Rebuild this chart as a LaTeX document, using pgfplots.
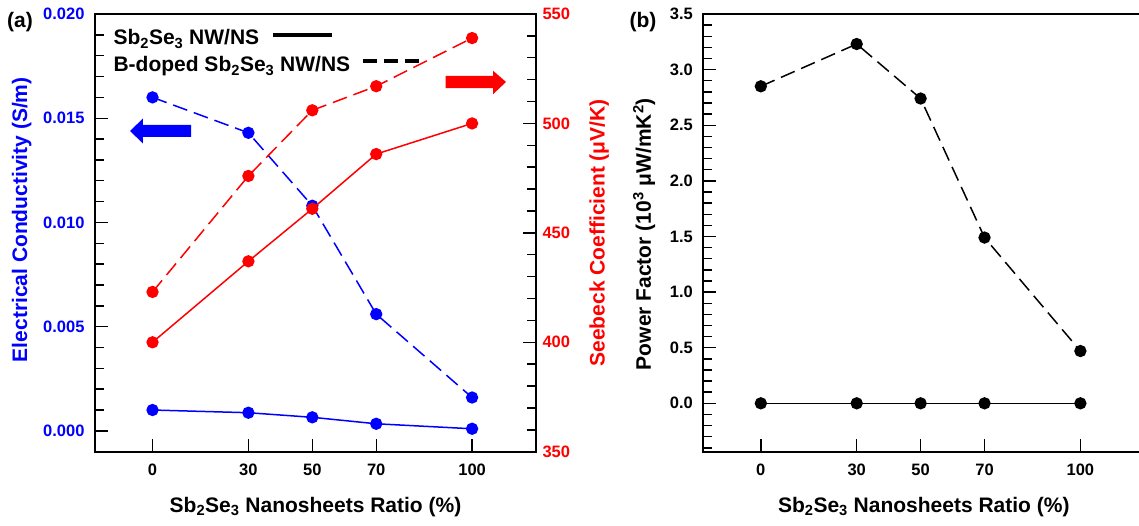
\documentclass[border=0pt]{standalone}
\usepackage{pgfplots}
\pgfplotsset{compat=1.18}
\usepackage{pgfplotstable}
\usepackage{fontspec}
\setmainfont{Liberation Sans}

\definecolor{cblue}{RGB}{0,0,255}
\definecolor{cred}{RGB}{255,0,0}

% electrical conductivity (S/m)
\pgfplotstableread{
x   plain    doped
0   0.00100  0.0160
30  0.00087  0.0143
50  0.00065  0.0108
70  0.00034  0.0056
100 0.00010  0.0016
}\condtable

% Seebeck coefficient (uV/K)
\pgfplotstableread{
x   plain  doped
0   400    423
30  437    476
50  461    506
70  486    517
100 500    539
}\seebecktable

% power factor (1e-3 uW/mK^2)
\pgfplotstableread{
x   plain  doped
0   0      2.85
30  0      3.23
50  0      2.74
70  0      1.49
100 0      0.47
}\pftable

\newcommand{\labelfont}{\fontsize{21}{21}\selectfont\bfseries}
\newcommand{\keyfont}{\fontsize{21}{21}\selectfont\bfseries}

\pgfplotsset{
  panel/.style={
    scale only axis, width=441pt, height=437.7pt,
    anchor=south west,
    xmin=-18, xmax=120, xtick={0,30,50,70,100},
    xtick pos=bottom, ytick pos=left,
    tick align=inside,
    axis line style={line width=1.8pt, black},
    major tick length=13pt, minor tick length=9pt,
    every tick/.style={line width=1.4pt, black},
    tick label style={font=\fontsize{16.5}{16.5}\selectfont\bfseries},
    /pgf/number format/assume math mode=true,
    xticklabel style={yshift=-9pt},
    xlabel={Sb\textsubscript{2}Se\textsubscript{3} Nanosheets Ratio (\%)},
    every axis x label/.style={at={(axis description cs:0.5,-0.126)}, anchor=center, font=\labelfont},
    clip=false,
  },
  series/.style={line width=1.5pt, mark=*, mark size=5.4pt, mark options={solid}},
  dashedline/.style={dash pattern=on 15pt off 7pt},
}

\begin{document}
\begin{tikzpicture}

% ---- (a) conductivity, left axis ----
\begin{axis}[panel, at={(95pt,73.3pt)},
  ymin=-0.001, ymax=0.020,
  ytick={0,0.005,0.010,0.015,0.020}, minor y tick num=4,
  yticklabel style={cblue, xshift=-7pt, /pgf/number format/.cd, fixed, fixed zerofill, precision=3},
  scaled y ticks=false,
  ylabel={Electrical Conductivity (S/m)},
  every axis y label/.style={at={(axis description cs:-0.166,0.53)}, rotate=90, anchor=center, cblue, font=\labelfont},
]
\addplot[series, cblue] table[x=x, y=plain] {\condtable};
\addplot[series, cblue, dashedline] table[x=x, y=doped] {\condtable};

% key
\node[anchor=base west, font=\keyfont] at (rel axis cs:0.034,0.9292) {Sb\textsubscript{2}Se\textsubscript{3} NW/NS};
\node[anchor=base west, font=\keyfont] at (rel axis cs:0.034,0.8675) {B-doped Sb\textsubscript{2}Se\textsubscript{3} NW/NS};
\draw[line width=4pt] (rel axis cs:0.4036,0.952) -- (rel axis cs:0.5367,0.952);
\draw[line width=4pt, dash pattern=on 14pt off 7pt] (rel axis cs:0.6077,0.8926) -- (rel axis cs:0.737,0.8926);

% left-pointing arrow for the conductivity scale
\fill[cblue] (rel axis cs:0.0794,0.7327) -- (rel axis cs:0.1088,0.7613) -- (rel axis cs:0.1088,0.7464)
  -- (rel axis cs:0.2177,0.7464) -- (rel axis cs:0.2177,0.7190) -- (rel axis cs:0.1088,0.7190)
  -- (rel axis cs:0.1088,0.7042) -- cycle;
\end{axis}

% ---- (a) Seebeck, right axis ----
\begin{axis}[panel, at={(95pt,73.3pt)},
  axis x line=none, axis y line*=right,
  ymin=350, ymax=550,
  ytick={350,400,450,500,550}, minor y tick num=4,
  ytick pos=right,
  yticklabel style={cred, xshift=3pt},
  ylabel={Seebeck Coefficient (μV/K)},
  every axis y label/.style={at={(axis description cs:1.143,0.5)}, rotate=90, anchor=center, cred, font=\labelfont},
  xlabel={},
]
\addplot[series, cred] table[x=x, y=plain] {\seebecktable};
\addplot[series, cred, dashedline] table[x=x, y=doped] {\seebecktable};

% right-pointing arrow for the Seebeck scale
\fill[cred] (rel axis cs:0.7952,0.8584) -- (rel axis cs:0.9025,0.8584) -- (rel axis cs:0.9025,0.8705)
  -- (rel axis cs:0.9320,0.8447) -- (rel axis cs:0.9025,0.8166) -- (rel axis cs:0.9025,0.8309)
  -- (rel axis cs:0.7952,0.8309) -- cycle;
\end{axis}

% ---- (b) power factor ----
\begin{axis}[panel, at={(703.3pt,73.3pt)},
  ymin=-0.435, ymax=3.5,
  ytick={0,0.5,...,3.5},
  minor ytick={-0.4,-0.3,...,3.45},
  yticklabel style={xshift=-7pt, /pgf/number format/.cd, fixed, fixed zerofill, precision=1},
  ylabel={Power Factor (10\textsuperscript{3} μW/mK\textsuperscript{2})},
  every axis y label/.style={at={(axis description cs:-0.134,0.497)}, rotate=90, anchor=center, font=\labelfont},
]
\addplot[series, black] table[x=x, y=plain] {\pftable};
\addplot[series, black, dashedline] table[x=x, y=doped] {\pftable};
\end{axis}

\node[font=\fontsize{21}{21}\selectfont\bfseries] at (20pt,503pt) {(a)};
\node[font=\fontsize{21}{21}\selectfont\bfseries] at (643pt,503pt) {(b)};

\pgfresetboundingbox
\path[use as bounding box] (0,0) rectangle (1139pt,525pt);
\end{tikzpicture}
\end{document}
